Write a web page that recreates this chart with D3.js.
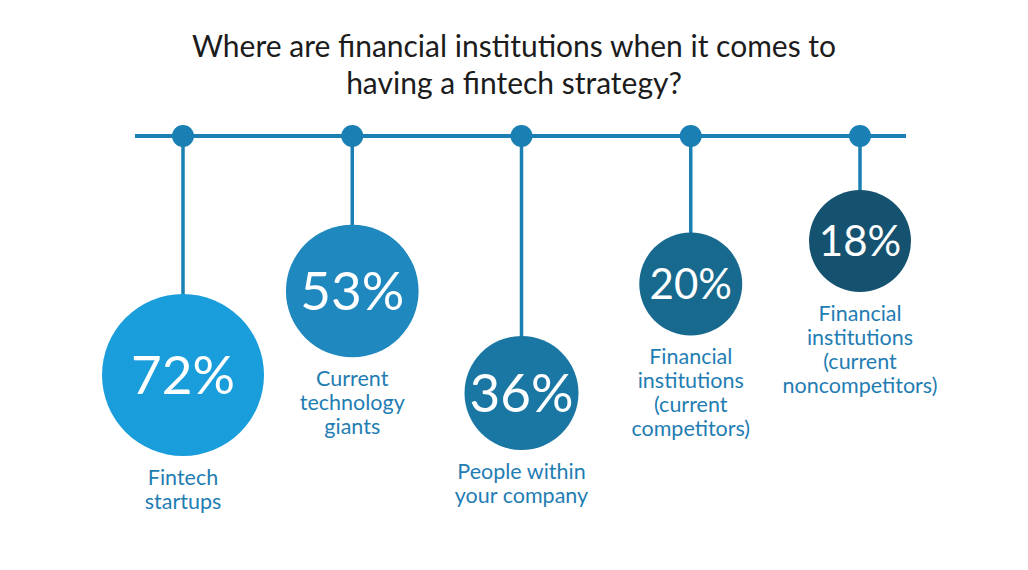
<!DOCTYPE html>
<html>
<head>
<meta charset="utf-8">
<script src="https://cdn.jsdelivr.net/npm/d3@7"></script>
<style>
  body { margin: 0; background: #fff; }
  svg { display: block; font-family: Lato, "Open Sans", sans-serif; }
</style>
</head>
<body>
<div id="chart"></div>
<script>
// Data
var categories = ["Fintech startups", "Current technology giants", "People within your company",
  "Financial institutions (current competitors)", "Financial institutions (current noncompetitors)"];
var labelLines = [
  ["Fintech", "startups"],
  ["Current", "technology", "giants"],
  ["People within", "your company"],
  ["Financial", "institutions", "(current", "competitors)"],
  ["Financial", "institutions", "(current", "noncompetitors)"]
];
var values = [72, 53, 36, 20, 18];
var titleLines = ["Where are financial institutions when it comes to", "having a fintech strategy?"];

// Layout (not data): how far each circle hangs below the rail
var hangCenter = [375, 291, 393, 284, 241];
var circleColors = ["#1a9ddb", "#1e88bf", "#1a77a3", "#176a8e", "#155270"];

var svgWidth = 1028;
var svgHeight = 570;
var railY = 136;

var svg = d3.select("#chart")
  .append("svg")
  .attr("width", svgWidth)
  .attr("height", svgHeight);

// Title
svg.append("text")
  .attr("x", 514)
  .attr("y", 57)
  .attr("text-anchor", "middle")
  .attr("fill", "#1c1c1c")
  .style("font-size", "30px")
  .selectAll("tspan")
  .data(titleLines)
  .enter()
  .append("tspan")
  .attr("x", 514)
  .attr("dy", (d, i) => i === 0 ? 0 : 37)
  .text(d => d);

// Scales
var xScale = d3.scalePoint()
  .domain(categories)
  .range([183, 860]);

var rScale = d3.scalePow()
  .exponent(2)
  .domain([18, 72])
  .range([51, 81]);

// Rail
svg.append("line")
  .attr("x1", 135)
  .attr("x2", 906)
  .attr("y1", railY)
  .attr("y2", railY)
  .attr("stroke", "#1a7fb2")
  .attr("stroke-width", 4);

var items = categories.map((c, i) => ({
  cat: c, value: values[i], lines: labelLines[i], cy: hangCenter[i], color: circleColors[i]
}));

var groups = svg.selectAll("g.item")
  .data(items)
  .enter()
  .append("g")
  .attr("class", "item");

// strings
groups.append("line")
  .attr("x1", d => xScale(d.cat))
  .attr("x2", d => xScale(d.cat))
  .attr("y1", railY)
  .attr("y2", d => d.cy - rScale(d.value) + 2)
  .attr("stroke", "#1a7fb2")
  .attr("stroke-width", 3.5);

// pins
groups.append("circle")
  .attr("cx", d => xScale(d.cat))
  .attr("cy", railY)
  .attr("r", 11)
  .attr("fill", "#1a7fb2");

// bubbles
groups.append("circle")
  .attr("cx", d => xScale(d.cat))
  .attr("cy", d => d.cy)
  .attr("r", d => rScale(d.value))
  .attr("fill", d => d.color);

// percentage text
groups.append("text")
  .attr("x", d => xScale(d.cat))
  .attr("y", d => d.cy)
  .attr("dy", "0.35em")
  .attr("text-anchor", "middle")
  .attr("fill", "#fff")
  .style("font-size", d => rScale(d.value) >= 55 ? "53px" : "42px")
  .text(d => d.value + "%");

// category labels
groups.append("text")
  .attr("text-anchor", "middle")
  .attr("fill", "#1f7db3")
  .style("font-size", "21.5px")
  .each(function (d) {
    var t = d3.select(this);
    d.lines.forEach(function (line, i) {
      t.append("tspan")
        .attr("x", xScale(d.cat))
        .attr("y", d.cy + rScale(d.value) + 29 + i * 24)
        .text(line);
    });
  });
</script>
</body>
</html>
